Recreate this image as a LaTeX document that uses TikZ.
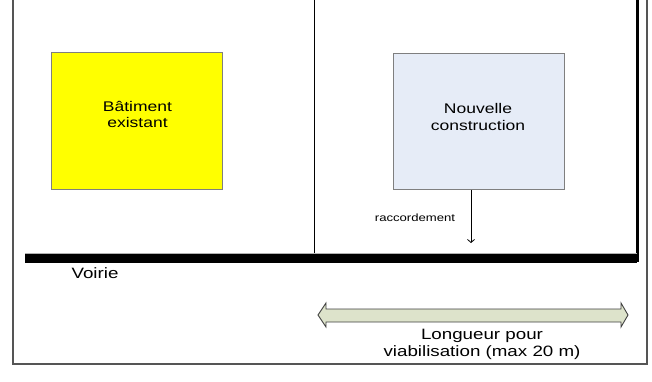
\documentclass[tikz,border=0pt]{standalone}
\usepackage{fontspec}
\setmainfont[FakeStretch=1.25]{Liberation Sans}
\usetikzlibrary{arrows.meta}
\definecolor{framegray}{HTML}{555555}
\definecolor{boxgray}{HTML}{7F7F7F}
\definecolor{newblue}{HTML}{E6ECF7}
\definecolor{arrowfill}{HTML}{DDE3CB}
\definecolor{pureyellow}{HTML}{FFFF00}
\tikzset{
  house/.style={draw=boxgray, line width=1pt, minimum width=171pt, minimum height=136pt, inner sep=0pt},
  txt/.style={inner sep=0pt, align=center, text=black},
}
\begin{document}
\begin{tikzpicture}[x=1pt,y=-1pt]
\useasboundingbox[fill=white] (0,0) rectangle (652,382);
% outer frame
\draw[framegray, line width=1.3pt] (13,0) -- (13,364) -- (647,364) -- (647,0);
% lot boundaries
\draw[black, line width=0.8pt] (314,0) -- (314,253);
\draw[black, line width=3pt] (637.5,0) -- (637.5,262);
% road
\fill[gray!60] (25,252.5) rectangle (637,254);
\fill[black] (25,254) rectangle (637,263);
% buildings
\node[house, fill=pureyellow] (bat) at (136.5,121) {};
\node[txt, font=\fontsize{14}{16}\selectfont] (battxt) at (137.5,114.5) {Bâtiment\\existant};
\node[house, fill=newblue] (neuf) at (478.5,121.5) {};
\node[txt, font=\fontsize{14}{17}\selectfont] (neuftxt) at (478,117) {Nouvelle\\construction};
% raccordement
\coordinate (rac) at (471,243);
\draw[line width=0.8pt, -{Straight Barb[length=3pt,width=7pt]}] (neuf.south -| rac) -- (rac);
\node[txt, font=\fontsize{10.5}{12}\selectfont] (ractxt) at (415,218) {raccordement};
% voirie
\node[txt, font=\fontsize{15}{17}\selectfont] (voirie) at (95,273) {Voirie};
% double arrow
\filldraw[fill=arrowfill, draw=black!75, line width=0.9pt]
  (318,315) -- (326,303) -- (326,309) -- (621,309) -- (621,303) -- (628,315)
  -- (621,327) -- (621,322) -- (326,322) -- (326,327) -- cycle;
\node[txt, font=\fontsize{15}{17}\selectfont] (longtxt) at (482,344) {Longueur pour\\viabilisation (max 20 m)};
\end{tikzpicture}
\end{document}
